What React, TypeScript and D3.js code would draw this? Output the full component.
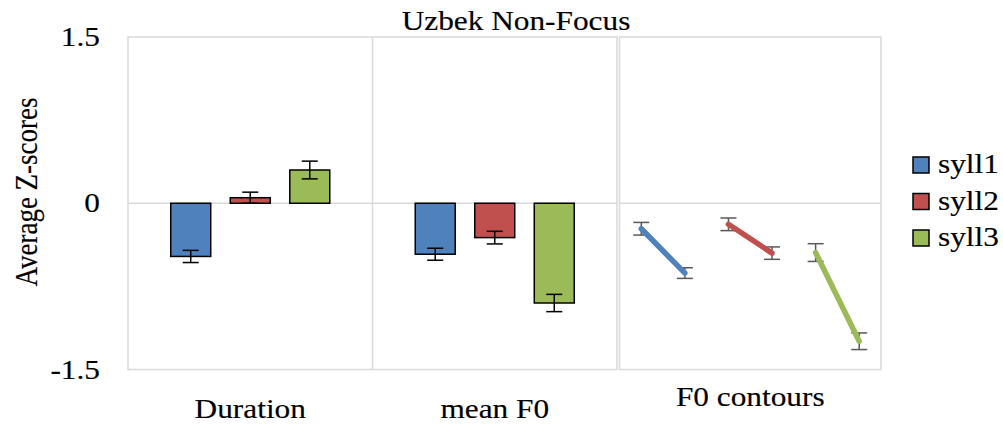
import * as d3 from "d3";

// chart data
const series = ["syll1", "syll2", "syll3"];
const colors = ["#4f81bd", "#c0504d", "#9bbb59"];
const barCategories = ["Duration", "mean F0"];
const durationVals = [-0.48, 0.05, 0.3];
const durationErr = [0.055, 0.05, 0.08];
const meanF0Vals = [-0.46, -0.31, -0.9];
const meanF0Err = [0.054, 0.057, 0.078];
const contourStart = [-0.23, -0.19, -0.445];
const contourEnd = [-0.63, -0.45, -1.245];
const contourStartErr = [0.057, 0.057, 0.08];
const contourEndErr = [0.048, 0.056, 0.075];
const yTicks = [1.5, 0, -1.5];
const yTickLabels = ["1.5", "0", "-1.5"];
const contourLabel = "F0 contours";
const title = "Uzbek Non-Focus";
const yTitle = "Average Z-scores";

const W = 1003;
const H = 425;
const FONT = "Liberation Serif, Times New Roman, DejaVu Serif, serif";
const FS = 27;
const SX = 1.16; // horizontal text stretch seen in the picture
const GRID = "#d9d9d9";

const App = () => {
  const top = 37;
  const bottom = 369.5;
  const y = d3.scaleLinear().domain([-1.5, 1.5]).range([bottom, top]);

  // bar panels
  const x0 = d3.scaleBand().domain(barCategories).range([128, 617]);
  const x1 = d3
    .scaleBand()
    .domain(series)
    .range([0, x0.bandwidth()])
    .paddingInner(0.328)
    .paddingOuter(0.718);
  const barData = [
    { cat: "Duration", vals: durationVals, errs: durationErr },
    { cat: "mean F0", vals: meanF0Vals, errs: meanF0Err },
  ];

  // contour panel
  const cLeft = 619.5;
  const cRight = 881;
  const pts = series.flatMap((s) => [s + "-a", s + "-b"]);
  const xc = d3.scalePoint().domain(pts).range([cLeft, cRight]).padding(0.5);

  const capW = 8;

  const txt = (
    x: number,
    yy: number,
    s: string,
    anchor: "start" | "middle" | "end" = "middle",
    extra = ""
  ) => (
    <text
      transform={`translate(${x},${yy}) scale(${SX},1)${extra}`}
      textAnchor={anchor}
      style={{ fontFamily: FONT, fontSize: FS }}
      fill="#000"
      stroke="#000"
      strokeWidth={0.15}
    >
      {s}
    </text>
  );

  return (
    <svg
      width={W}
      height={H}
      style={{ position: "absolute", left: 0, top: 0, background: "#fff" }}
    >
      {/* bar panels frame */}
      <rect x={128} y={top} width={617 - 128} height={bottom - top} fill="none" stroke={GRID} strokeWidth={1.5} />
      <line x1={x0("mean F0")!} x2={x0("mean F0")!} y1={top} y2={bottom} stroke={GRID} strokeWidth={1.5} />
      <line x1={128} x2={617} y1={y(0)} y2={y(0)} stroke={GRID} strokeWidth={1.5} />

      {/* contour panel frame */}
      <rect x={cLeft} y={top} width={cRight - cLeft} height={bottom - top} fill="none" stroke={GRID} strokeWidth={1.5} />
      <line x1={cLeft} x2={cRight} y1={y(0)} y2={y(0)} stroke={GRID} strokeWidth={1.5} />

      {/* bars */}
      {barData.map((d) =>
        series.map((s, i) => {
          const bx = x0(d.cat)! + x1(s)!;
          const bw = x1.bandwidth();
          const v = d.vals[i];
          const cx = bx + bw / 2;
          const e = d.errs[i];
          return (
            <g key={d.cat + s}>
              <rect
                x={bx}
                y={Math.min(y(v), y(0))}
                width={bw}
                height={Math.abs(y(v) - y(0))}
                fill={colors[i]}
                stroke="#000"
                strokeWidth={1.5}
              />
              <g stroke="#000" strokeWidth={1.5}>
                <line x1={cx} x2={cx} y1={y(v + e)} y2={y(v - e)} />
                <line x1={cx - capW} x2={cx + capW} y1={y(v + e)} y2={y(v + e)} />
                <line x1={cx - capW} x2={cx + capW} y1={y(v - e)} y2={y(v - e)} />
              </g>
            </g>
          );
        })
      )}

      {/* contours */}
      {series.map((s, i) => {
        const xa = xc(s + "-a")!;
        const xb = xc(s + "-b")!;
        const line = d3.line<[number, number]>()([
          [xa, y(contourStart[i])],
          [xb, y(contourEnd[i])],
        ]);
        const errs = [
          [xa, contourStart[i], contourStartErr[i]],
          [xb, contourEnd[i], contourEndErr[i]],
        ];
        return (
          <g key={s}>
            <g stroke="#595959" strokeWidth={1.5}>
              {errs.map(([ex, v, e], k) => (
                <g key={k}>
                  <line x1={ex} x2={ex} y1={y(v + e)} y2={y(v - e)} />
                  <line x1={ex - capW} x2={ex + capW} y1={y(v + e)} y2={y(v + e)} />
                  <line x1={ex - capW} x2={ex + capW} y1={y(v - e)} y2={y(v - e)} />
                </g>
              ))}
            </g>
            <path d={line!} stroke={colors[i]} strokeWidth={5.5} strokeLinecap="round" fill="none" />
          </g>
        );
      })}

      {/* y ticks */}
      {yTicks.map((t, i) => (
        <g key={t}>{txt(100, y(t) + 9, yTickLabels[i], "end")}</g>
      ))}

      {/* category labels */}
      {barCategories.map((c) => (
        <g key={c}>{txt(x0(c)! + x0.bandwidth() / 2, 418, c)}</g>
      ))}
      {txt((cLeft + cRight) / 2, 406, contourLabel)}

      {/* titles */}
      {txt(516, 30, title)}
      {txt(37, 192, yTitle, "middle", " rotate(-90)")}

      {/* legend */}
      {series.map((s, i) => (
        <g key={s}>
          <rect x={913} y={157 + i * 36.5} width={16} height={16} fill={colors[i]} stroke="#000" strokeWidth={1.5} />
          {txt(938, 173 + i * 36.5, s, "start")}
        </g>
      ))}
    </svg>
  );
};

export default App;
